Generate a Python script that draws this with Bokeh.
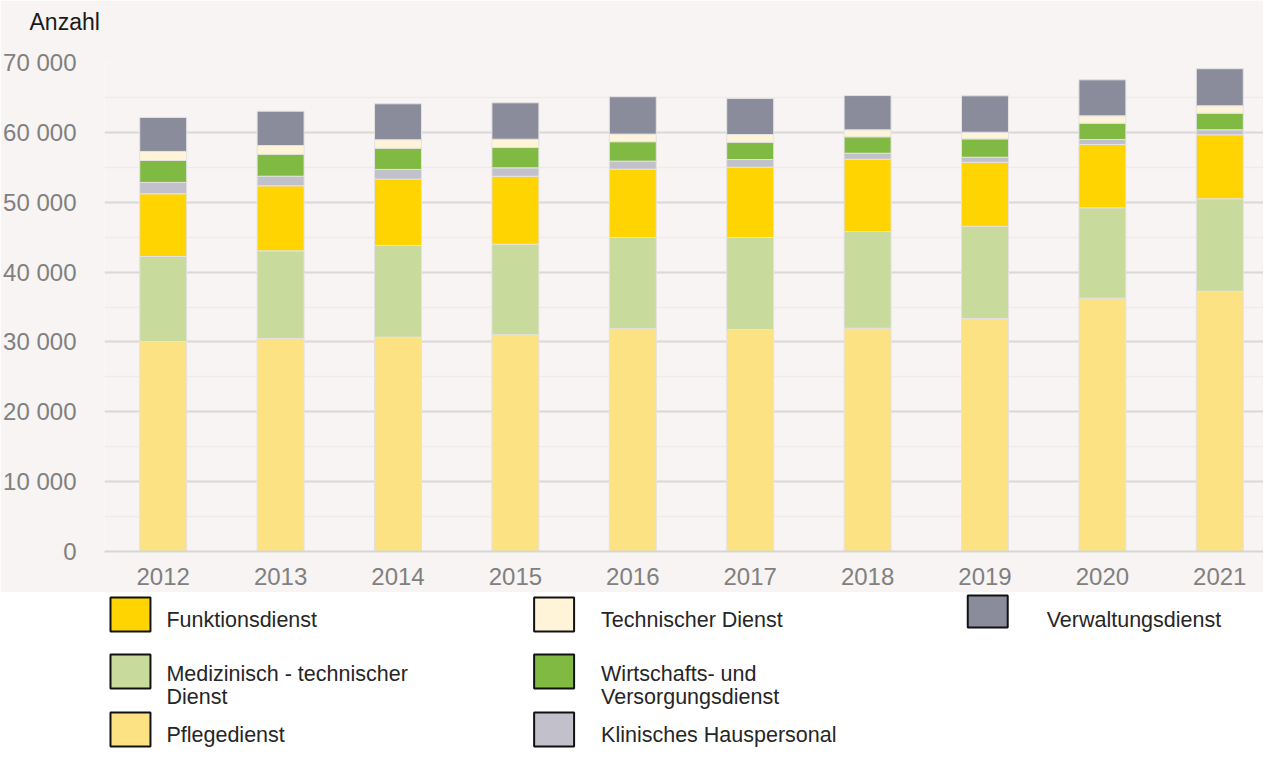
from bokeh.plotting import figure
from bokeh.models import ColumnDataSource, Range1d, FixedTicker
from bokeh.layouts import column
from bokeh.core.properties import value
from bokeh.embed import file_html
from bokeh.resources import INLINE

# ---------------- data ----------------
years = ["2012", "2013", "2014", "2015", "2016", "2017", "2018", "2019", "2020", "2021"]
pflegedienst = [30060, 30490, 30680, 31020, 31880, 31780, 31960, 33350, 36260, 37260]
medtech = [12170, 12550, 13130, 12970, 13070, 13170, 13840, 13210, 12940, 13230]
funktionsdienst = [8980, 9310, 9490, 9730, 9780, 10060, 10350, 9160, 9060, 9160]
klinisch = [1620, 1370, 1390, 1200, 1150, 1100, 860, 720, 720, 720]
wirtschaft = [3150, 3150, 3050, 2910, 2780, 2480, 2350, 2630, 2330, 2380]
technisch = [1290, 1250, 1200, 1190, 1090, 1100, 1000, 950, 1060, 1060]
verwaltung = [4870, 4910, 5150, 5210, 5350, 5150, 4910, 5210, 5150, 5300]

y_ticks = [0, 10000, 20000, 30000, 40000, 50000, 60000, 70000]
y_label = "Anzahl"

# stacking order (bottom -> top)
keys = ["pflege", "med", "funk", "klin", "wirt", "tech", "verw"]
names = {
    "pflege": "Pflegedienst",
    "med": "Medizinisch - technischer\nDienst",
    "funk": "Funktionsdienst",
    "klin": "Klinisches Hauspersonal",
    "wirt": "Wirtschafts- und\nVersorgungsdienst",
    "tech": "Technischer Dienst",
    "verw": "Verwaltungsdienst",
}
colors = {
    "pflege": "#fde283",
    "med": "#c8db9c",
    "funk": "#ffd400",
    "klin": "#c2c1cb",
    "wirt": "#80ba42",
    "tech": "#fff4d8",
    "verw": "#8b8c9b",
}
legend_columns = [["funk", "med", "pflege"], ["tech", "wirt", "klin"], ["verw"]]

FONT = "Liberation Sans"
BG = "#f7f4f3"

W, H_MAIN, H_LEG = 1263, 592, 162
LEFT, TOP, BOTTOM = 103, 62, 41
CAT_PX = 117.5  # pixel width of one category slot

idx = list(range(len(years)))
source = ColumnDataSource(dict(
    x=idx, pflege=pflegedienst, med=medtech, funk=funktionsdienst,
    klin=klinisch, wirt=wirtschaft, tech=technisch, verw=verwaltung,
))

frame_w = W - LEFT
p = figure(
    x_range=Range1d(-0.5, -0.5 + frame_w / CAT_PX),
    y_range=Range1d(0, 70000),
    width=W, height=H_MAIN,
    min_border_left=LEFT, min_border_right=0, min_border_top=TOP, min_border_bottom=BOTTOM,
    output_backend="svg", toolbar_location=None,
)
p.background_fill_color = BG
p.border_fill_color = BG
p.outline_line_color = None

p.vbar_stack(keys, x="x", width=0.4, source=source,
             color=[colors[k] for k in keys],
             line_color="#e4e2e2", line_width=1)

# title "Anzahl" (an empty second line lifts it to the top of the border area)
p.title.text = y_label + "\n "
p.title.align = "left"
p.title.vertical_align = "top"
p.title.offset = -75
p.title.standoff = 0
p.title.text_font = FONT
p.title.text_font_size = "23px"
p.title.text_font_style = "normal"
p.title.text_color = "#1a1a1a"

# axes
p.yaxis.ticker = FixedTicker(ticks=y_ticks, minor_ticks=[t + 5000 for t in y_ticks[:-1]])
p.yaxis.major_label_overrides = {t: f"{t:,}".replace(",", " ") for t in y_ticks}
p.yaxis.axis_line_color = None
p.yaxis.major_tick_line_color = None
p.yaxis.minor_tick_line_color = None
p.yaxis.major_label_standoff = 22
p.yaxis.major_label_text_font = FONT
p.yaxis.major_label_text_font_size = "24px"
p.yaxis.major_label_text_color = "#808080"

p.xaxis.ticker = FixedTicker(ticks=idx)
p.xaxis.major_label_overrides = {i: y for i, y in zip(idx, years)}
p.xaxis.axis_line_color = "#d6d6d6"
p.xaxis.axis_line_width = 2
p.xaxis.major_tick_line_color = None
p.xaxis.minor_tick_line_color = None
p.xaxis.major_label_standoff = 10
p.xaxis.major_label_text_font = FONT
p.xaxis.major_label_text_font_size = "24px"
p.xaxis.major_label_text_color = "#808080"

p.xgrid.grid_line_color = None
p.ygrid.grid_line_color = "#dad8d8"
p.ygrid.grid_line_width = 2
p.ygrid.minor_grid_line_color = "#eeebea"
p.ygrid.minor_grid_line_width = 1.5

# ---------------- legend (separate panel, data units = page pixels) ----------------
lg = figure(
    x_range=Range1d(LEFT, W), y_range=Range1d(H_MAIN + H_LEG, H_MAIN),
    width=W, height=H_LEG,
    min_border_left=LEFT, min_border_right=0, min_border_top=0, min_border_bottom=0,
    output_backend="svg", toolbar_location=None,
)
lg.axis.visible = False
lg.grid.visible = False
lg.outline_line_color = None
lg.background_fill_color = "white"
lg.border_fill_color = "white"

col_box_x = [109, 533, 967]
col_text_x = [165, 600, 1046]
row_box_top = [597, 654, 712]
row_baseline = [619, 673, 734]
box_w, box_h = 40, 34
line_h = 23

q = dict(left=[], right=[], top=[], bottom=[], color=[])
t = dict(x=[], y=[], text=[])
for ci, col in enumerate(legend_columns):
    for ri, k in enumerate(col):
        if k == "verw":
            top, h = row_box_top[ri] - 2, 32
        else:
            top, h = row_box_top[ri], box_h
        q["left"].append(col_box_x[ci])
        q["right"].append(col_box_x[ci] + box_w)
        q["top"].append(top)
        q["bottom"].append(top + h)
        q["color"].append(colors[k])
        for li, line in enumerate(names[k].split("\n")):
            t["x"].append(col_text_x[ci])
            t["y"].append(row_baseline[ri] + li * line_h)
            t["text"].append(line)

lg.quad(left="left", right="right", top="top", bottom="bottom", fill_color="color",
        line_color="#111111", line_width=2, source=ColumnDataSource(q))
lg.text(x="x", y="y", text="text", source=ColumnDataSource(t),
        text_font=value(FONT), text_font_size="21.5px", text_color="#262626",
        text_baseline="alphabetic", text_align="left")

layout = column(p, lg, spacing=0)
open("out.html", "w").write(file_html(layout, INLINE))
